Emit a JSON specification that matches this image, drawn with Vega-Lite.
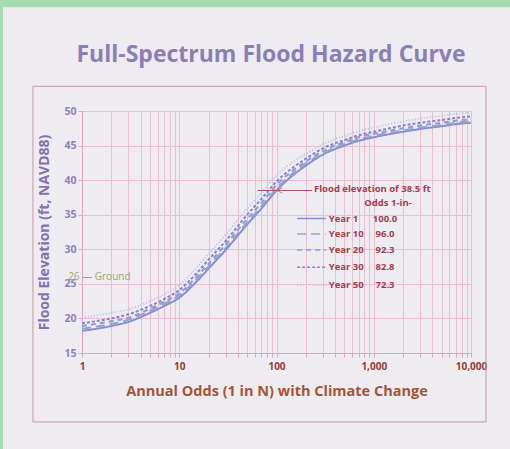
{
  "$schema": "https://vega.github.io/schema/vega-lite/v6.json",
  "width": 389,
  "height": 242,
  "autosize": {"type": "none"},
  "padding": {"left": 82, "top": 111, "right": 39, "bottom": 96},
  "background": "#eeecf0",
  "config": {"view": {"stroke": null}, "axis": {"labelOverlap": false, "labelBound": false}},
  "datasets": {
    "curves": [
      {"N": 1, "Year 1": 18.2, "Year 10": 18.5, "Year 20": 18.9, "Year 30": 19.3, "Year 50": 20.1},
      {"N": 2, "Year 1": 18.9, "Year 10": 19.2, "Year 20": 19.6, "Year 30": 20.0, "Year 50": 20.8},
      {"N": 3, "Year 1": 19.5, "Year 10": 19.8, "Year 20": 20.1, "Year 30": 20.6, "Year 50": 21.3},
      {"N": 5, "Year 1": 20.8, "Year 10": 21.1, "Year 20": 21.4, "Year 30": 21.8, "Year 50": 22.5},
      {"N": 7, "Year 1": 21.8, "Year 10": 22.1, "Year 20": 22.4, "Year 30": 22.8, "Year 50": 23.5},
      {"N": 10, "Year 1": 23.0, "Year 10": 23.3, "Year 20": 23.6, "Year 30": 24.1, "Year 50": 24.8},
      {"N": 15, "Year 1": 25.3, "Year 10": 25.6, "Year 20": 26.0, "Year 30": 26.5, "Year 50": 27.3},
      {"N": 20, "Year 1": 27.2, "Year 10": 27.5, "Year 20": 27.9, "Year 30": 28.5, "Year 50": 29.3},
      {"N": 30, "Year 1": 29.9, "Year 10": 30.2, "Year 20": 30.7, "Year 30": 31.2, "Year 50": 32.1},
      {"N": 50, "Year 1": 33.6, "Year 10": 33.9, "Year 20": 34.4, "Year 30": 35.0, "Year 50": 35.9},
      {"N": 70, "Year 1": 35.9, "Year 10": 36.2, "Year 20": 36.7, "Year 30": 37.3, "Year 50": 38.2},
      {"N": 100, "Year 1": 38.5, "Year 10": 38.8, "Year 20": 39.3, "Year 30": 39.8, "Year 50": 40.7},
      {"N": 150, "Year 1": 40.8, "Year 10": 41.1, "Year 20": 41.5, "Year 30": 41.9, "Year 50": 42.7},
      {"N": 200, "Year 1": 42.1, "Year 10": 42.4, "Year 20": 42.7, "Year 30": 43.1, "Year 50": 43.8},
      {"N": 300, "Year 1": 43.7, "Year 10": 43.9, "Year 20": 44.2, "Year 30": 44.6, "Year 50": 45.2},
      {"N": 500, "Year 1": 45.0, "Year 10": 45.2, "Year 20": 45.5, "Year 30": 45.8, "Year 50": 46.4},
      {"N": 700, "Year 1": 45.7, "Year 10": 45.9, "Year 20": 46.2, "Year 30": 46.5, "Year 50": 47.1},
      {"N": 1000, "Year 1": 46.2, "Year 10": 46.4, "Year 20": 46.7, "Year 30": 47.0, "Year 50": 47.6},
      {"N": 2000, "Year 1": 47.0, "Year 10": 47.2, "Year 20": 47.5, "Year 30": 47.9, "Year 50": 48.5},
      {"N": 3000, "Year 1": 47.4, "Year 10": 47.6, "Year 20": 47.9, "Year 30": 48.3, "Year 50": 48.9},
      {"N": 5000, "Year 1": 47.8, "Year 10": 48.0, "Year 20": 48.3, "Year 30": 48.7, "Year 50": 49.3},
      {"N": 7000, "Year 1": 48.1, "Year 10": 48.3, "Year 20": 48.6, "Year 30": 49.0, "Year 50": 49.6},
      {"N": 10000, "Year 1": 48.3, "Year 10": 48.5, "Year 20": 48.8, "Year 30": 49.2, "Year 50": 49.8}
    ],
    "legend": [
      {"series": "Year 1", "odds": "100.0", "ly": 34.45},
      {"series": "Year 10", "odds": "96.0", "ly": 32.2},
      {"series": "Year 20", "odds": "92.3", "ly": 29.9},
      {"series": "Year 30", "odds": "82.8", "ly": 27.4},
      {"series": "Year 50", "odds": "72.3", "ly": 24.8}
    ]
  },
  "layer": [
    {
      "data": {"values": [{}]},
      "mark": {"type": "rect", "fill": "#a8dab2"},
      "encoding": {
        "x": {"datum": 0.001, "type": "quantitative"},
        "x2": {"datum": 1000000},
        "y": {"datum": 65, "type": "quantitative"},
        "y2": {"datum": 120}
      }
    },
    {
      "data": {"values": [{}]},
      "mark": {"type": "rect", "fill": "#a8dab2"},
      "encoding": {
        "x": {"datum": 0.001, "type": "quantitative"},
        "x2": {"datum": 0.154},
        "y": {"datum": -60, "type": "quantitative"},
        "y2": {"datum": 120}
      }
    },
    {
      "data": {"values": [{}]},
      "mark": {"type": "rect", "fill": null, "stroke": "#c996a6", "strokeWidth": 1},
      "encoding": {
        "x": {"datum": 0.313, "type": "quantitative"},
        "x2": {"datum": 14260},
        "y": {"datum": 53.57, "type": "quantitative"},
        "y2": {"datum": 5.03}
      }
    },
    {
      "data": {"values": [{}]},
      "mark": {"type": "text", "text": "Full-Spectrum Flood Hazard Curve", "align": "center", "baseline": "middle", "font": "Open Sans", "fontSize": 23, "fontWeight": "bold", "color": "#8a7fb4"},
      "encoding": {
        "x": {"datum": 87.8, "type": "quantitative"},
        "y": {"datum": 58.1, "type": "quantitative"}
      }
    },
    {
      "data": {"name": "curves"},
      "transform": [{"fold": ["Year 1", "Year 10", "Year 20", "Year 30", "Year 50"], "as": ["series", "elev"]}],
      "mark": {"type": "line", "strokeWidth": 2, "interpolate": "monotone"},
      "encoding": {
        "x": {
          "field": "N", "type": "quantitative",
          "scale": {"type": "log", "domain": [1, 10000], "nice": false},
          "axis": {
            "title": "Annual Odds (1 in N) with Climate Change",
            "values": [1,2,3,4,5,6,7,8,9,10,20,30,40,50,60,70,80,90,100,200,300,400,500,600,700,800,900,1000,2000,3000,4000,5000,6000,7000,8000,9000,10000],
            "tickCount": 40,
            "labelExpr": "(datum.value==1||datum.value==10||datum.value==100||datum.value==1000||datum.value==10000) ? format(datum.value, ',') : ''",
            "grid": true, "gridColor": "#e8bfd2", "gridWidth": 1,
            "domainColor": "#d9a8bf", "tickColor": "#d9a8bf", "tickSize": 4,
            "labelColor": "#8e3e33", "labelFont": "Open Sans", "labelFontSize": 10, "labelFontWeight": "bold", "labelPadding": 4,
            "labelOverlap": false, "labelFlush": false,
            "titleColor": "#9f5638", "titleFont": "Open Sans", "titleFontSize": 14.5, "titleFontWeight": "bold", "titlePadding": 13
          }
        },
        "y": {
          "field": "elev", "type": "quantitative",
          "scale": {"domain": [15, 50], "nice": false, "zero": false},
          "axis": {
            "title": "Flood Elevation (ft, NAVD88)",
            "values": [15, 20, 25, 30, 35, 40, 45, 50],
            "tickCount": 10,
            "grid": true, "gridColor": "#e8bfd2", "gridWidth": 1,
            "domainColor": "#d9a8bf", "tickColor": "#d9a8bf", "tickSize": 4,
            "labelColor": "#8c82ba", "labelFont": "Open Sans", "labelFontSize": 10.5, "labelFontWeight": "bold", "labelPadding": 2,
            "labelOverlap": false,
            "titleColor": "#7e73ad", "titleFont": "Open Sans", "titleFontSize": 14, "titleFontWeight": "bold", "titlePadding": 12
          }
        },
        "color": {
          "field": "series", "type": "nominal", "legend": null,
          "scale": {"domain": ["Year 1", "Year 10", "Year 20", "Year 30", "Year 50"], "range": ["#8a8ccf", "#8fa6cc", "#8e99d6", "#8a82c6", "#b6c0e4"]}
        },
        "strokeDash": {
          "field": "series", "type": "nominal", "legend": null,
          "scale": {"domain": ["Year 1", "Year 10", "Year 20", "Year 30", "Year 50"], "range": [[1, 0], [9, 5], [5, 4], [3, 2], [1, 2]]}
        }
      }
    },
    {
      "data": {"name": "legend"},
      "mark": {"type": "rule", "strokeWidth": 1.6},
      "encoding": {
        "x": {"datum": 163, "type": "quantitative"},
        "x2": {"datum": 322},
        "y": {"field": "ly", "type": "quantitative"},
        "color": {"field": "series", "type": "nominal", "legend": null},
        "strokeDash": {"field": "series", "type": "nominal", "legend": null}
      }
    },
    {
      "data": {"name": "legend"},
      "mark": {"type": "text", "align": "left", "baseline": "middle", "font": "Open Sans", "fontSize": 9.5, "fontWeight": "bold", "color": "#a03e4c"},
      "encoding": {
        "x": {"datum": 345, "type": "quantitative"},
        "y": {"field": "ly", "type": "quantitative"},
        "text": {"field": "series"}
      }
    },
    {
      "data": {"name": "legend"},
      "mark": {"type": "text", "align": "center", "baseline": "middle", "font": "Open Sans", "fontSize": 9.5, "fontWeight": "bold", "color": "#a03e4c"},
      "encoding": {
        "x": {"datum": 1306, "type": "quantitative"},
        "y": {"field": "ly", "type": "quantitative"},
        "text": {"field": "odds"}
      }
    },
    {
      "data": {"values": [{}]},
      "mark": {"type": "text", "text": "Flood elevation of 38.5 ft", "align": "left", "baseline": "middle", "font": "Open Sans", "fontSize": 9.5, "fontWeight": "bold", "color": "#a03e4c"},
      "encoding": {
        "x": {"datum": 243, "type": "quantitative"},
        "y": {"datum": 38.75, "type": "quantitative"}
      }
    },
    {
      "data": {"values": [{}]},
      "mark": {"type": "text", "text": "Odds 1-in-", "align": "center", "baseline": "middle", "font": "Open Sans", "fontSize": 9.5, "fontWeight": "bold", "color": "#a03e4c"},
      "encoding": {
        "x": {"datum": 1400, "type": "quantitative"},
        "y": {"datum": 36.67, "type": "quantitative"}
      }
    },
    {
      "data": {"values": [{}]},
      "mark": {"type": "rule", "color": "#a8566a", "strokeWidth": 1},
      "encoding": {
        "x": {"datum": 64, "type": "quantitative"},
        "x2": {"datum": 232},
        "y": {"datum": 38.5, "type": "quantitative"}
      }
    },
    {
      "data": {"values": [{}]},
      "mark": {"type": "point", "shape": "M1,-1L-1,0L1,1", "filled": false, "stroke": "#a8566a", "strokeWidth": 1, "size": 30},
      "encoding": {
        "x": {"datum": 108, "type": "quantitative"},
        "y": {"datum": 38.5, "type": "quantitative"}
      }
    },
    {
      "data": {"values": [{}]},
      "mark": {"type": "text", "text": "26 — Ground", "align": "left", "baseline": "middle", "font": "Open Sans", "fontSize": 10, "color": "#a3a27a"},
      "encoding": {
        "x": {"datum": 0.72, "type": "quantitative"},
        "y": {"datum": 26, "type": "quantitative"}
      }
    }
  ]
}
